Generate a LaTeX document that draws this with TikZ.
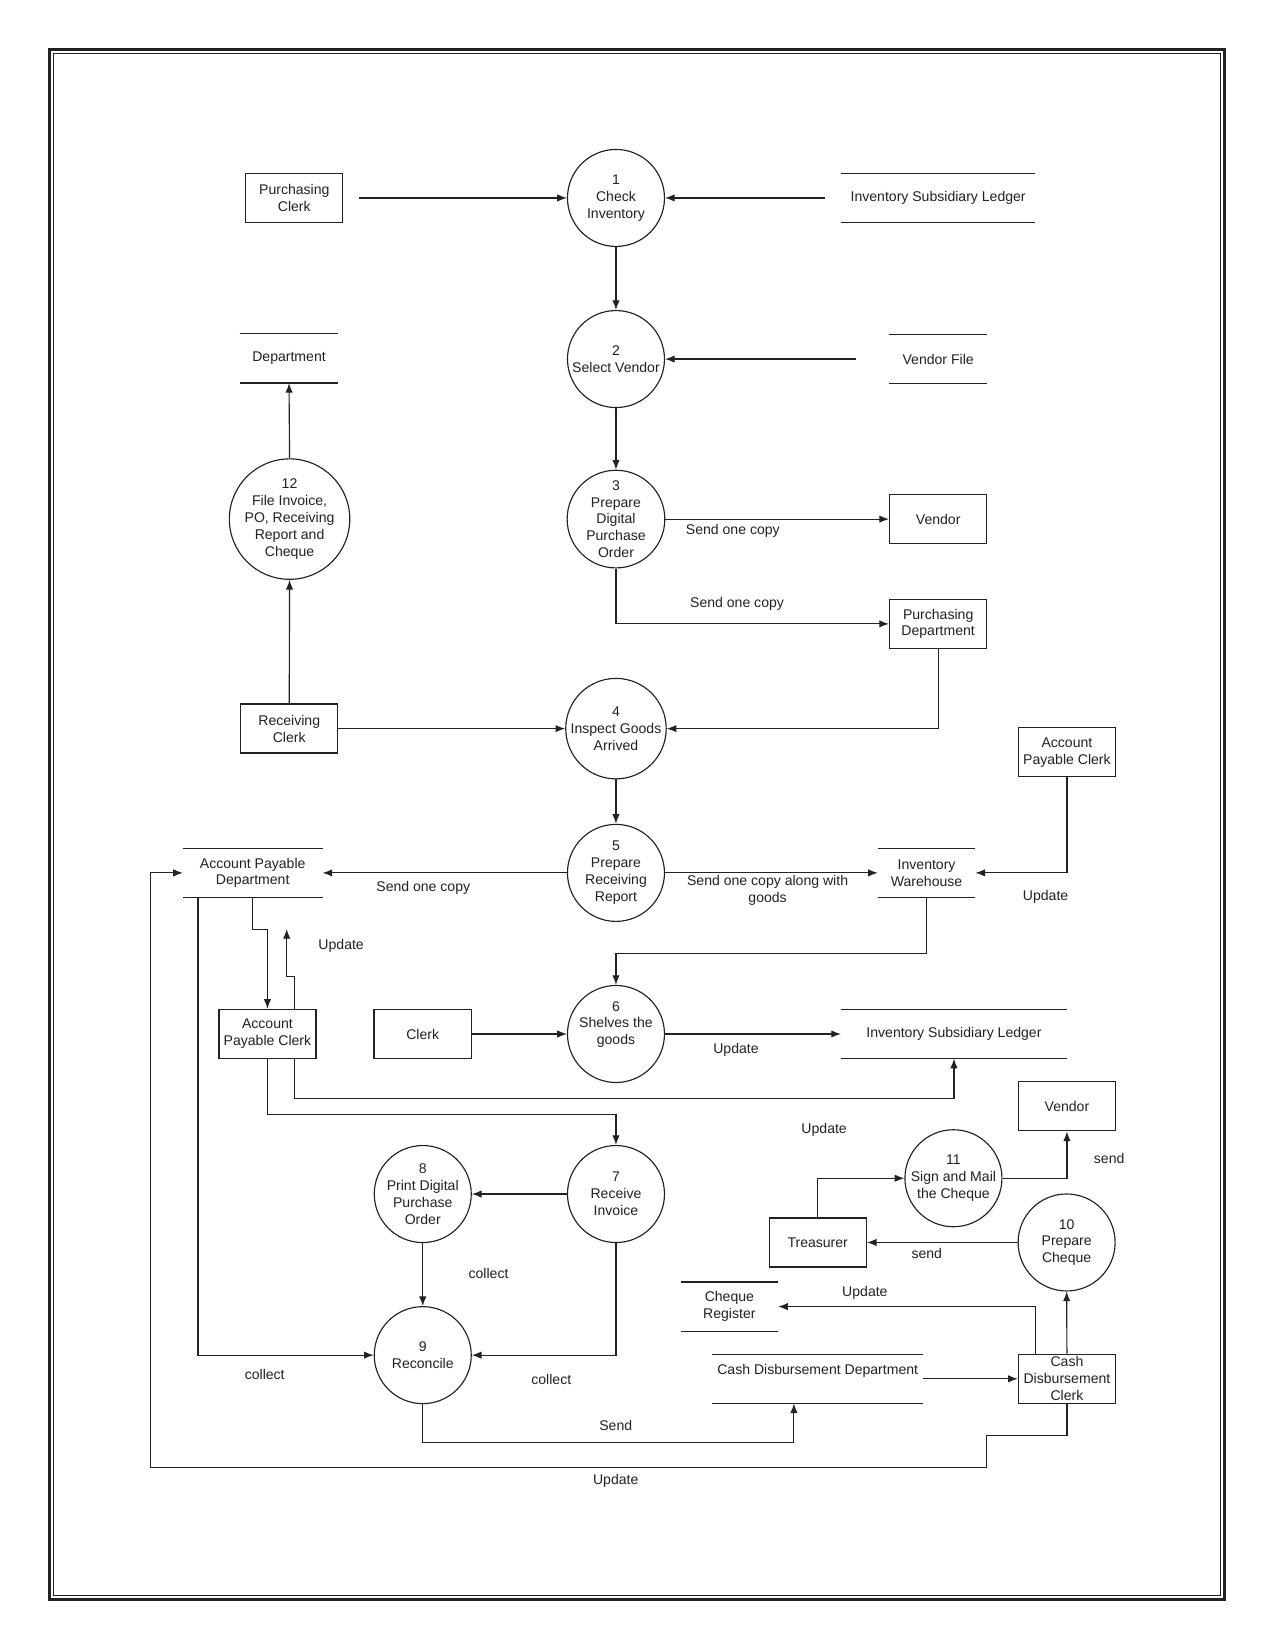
\documentclass[tikz,border=0pt]{standalone}
\usepackage{fontspec}
\setmainfont{Liberation Sans}
\usetikzlibrary{calc,arrows.meta}
\definecolor{ink}{HTML}{222222}
\tikzset{
  ln/.style={draw=ink, line width=0.65pt},
  arr/.style={ln, -{Latex[length=5.5pt,width=4.2pt]}},
  proc/.style={circle, draw=ink, line width=0.65pt, minimum size=1.94cm, inner sep=0pt, align=center, font=\fsz},
  ent/.style={rectangle, draw=ink, line width=0.75pt, minimum width=1.94cm, minimum height=0.98cm, inner sep=0pt, align=center, font=\fsz},
  store/.style={rectangle, minimum height=0.97cm, inner sep=0pt, align=center, font=\fsz},
  txt/.style={inner sep=0pt, align=center, font=\fsz, text=ink}
}
\newcommand{\fsz}{\fontsize{8}{9.6}\selectfont\color{ink}}
\newcommand{\stlines}[1]{\draw[ln] (#1.north west) -- (#1.north east) (#1.south west) -- (#1.south east);}
\begin{document}
\begin{tikzpicture}[x=0.021056cm, y=-0.021056cm]
\useasboundingbox (0,0) rectangle (1211,1568);
\fill[white] (0,0) rectangle (1211,1568);
% frame
\draw[ink, line width=1.3pt] (47,47) rectangle (1163,1519);
\draw[ink, line width=0.5pt] (50.5,50.5) rectangle (1159.5,1515.5);

% processes
\node[proc] (p1) at (585,188) {1\\Check\\Inventory};
\node[proc] (p2) at (585,341) {2\\Select Vendor};
\node[proc] (p3) at (585,493) {3\\Prepare\\Digital\\Purchase\\Order};
\node[proc] (p12) at (275,493) {12\\File Invoice,\\PO, Receiving\\Report and\\Cheque};
\node[proc] (p4) at (585,692) {4\\Inspect Goods\\Arrived};
\node[proc] (p5) at (585,829) {5\\Prepare\\Receiving\\Report};
\node[proc] (p6) at (585,982) {};
\node[txt] (t6) at (585,973) {6\\Shelves the\\goods};
\node[proc] (p7) at (585,1134) {7\\Receive\\Invoice};
\node[proc] (p8) at (401.5,1134) {8\\Print Digital\\Purchase\\Order};
\node[proc] (p9) at (401.5,1287) {9\\Reconcile};
\node[proc] (p11) at (905.5,1119) {11\\Sign and Mail\\the Cheque};
\node[proc] (p10) at (1013,1180) {10\\Prepare\\Cheque};

% external entities
\node[ent] (pc) at (279.5,188) {Purchasing\\Clerk};
\node[ent] (vt) at (891,493) {Vendor};
\node[ent] (pd) at (891,592.5) {Purchasing\\Department};
\node[ent] (rc) at (274.7,692) {Receiving\\Clerk};
\node[ent] (apcr) at (1013.3,714.5) {Account\\Payable Clerk};
\node[ent] (apcl) at (254,982) {Account\\Payable Clerk};
\node[ent] (clerk) at (401.4,982) {Clerk};
\node[ent] (vb) at (1013.3,1050.7) {Vendor};
\node[ent] (tr) at (776.6,1180) {Treasurer};
\node[ent] (cdc) at (1013.3,1309.5) {};
\node[txt] (tcdc) at (1013.3,1309.2) {Cash\\Disbursement\\Clerk};

% data stores
\node[store, minimum width=184*0.021056cm] (isl) at (891,188) {Inventory Subsidiary Ledger};
\node[store, minimum width=93*0.021056cm] (dep) at (274.5,340.4) {Department};
\node[store, minimum width=93*0.021056cm] (vf) at (891,341) {Vendor File};
\node[store, minimum width=132*0.021056cm] (apd) at (240,829) {Account Payable\\Department};
\node[store, minimum width=92*0.021056cm] (iw) at (880,829) {Inventory\\Warehouse};
\node[store, minimum width=214*0.021056cm] (islm) at (906,982) {Inventory Subsidiary Ledger};
\node[store, minimum width=92*0.021056cm] (cr) at (692.7,1240.9) {Cheque\\Register};
\node[store, minimum width=200*0.021056cm] (cdd) at (776.6,1309.5) {};
\node[txt] (tcdd) at (776.6,1301.6) {Cash Disbursement Department};
\stlines{isl}\stlines{dep}\stlines{vf}\stlines{apd}\stlines{iw}\stlines{islm}\stlines{cr}\stlines{cdd}

% flows
\draw[arr] ($(pc.east)+(15,0)$) -- (p1.west);
\draw[arr] ($(isl.west)+(-15.4,0)$) -- (p1.east);
\draw[arr] (p1.south) -- (p2.north);
\draw[arr] ($(vf.west)+(-31,0)$) -- (p2.east);
\draw[arr] (p2.south) -- (p3.north);
\draw[arr] (p3.east) -- (vt.west);
\draw[arr] (p3.south) |- (pd.west);
\draw[arr] (pd.south) |- (p4.east);
\draw[arr] (rc.east) -- (p4.west);
\draw[arr] (rc.north) -- (p12.south);
\draw[arr] (p12.north) -- (dep.south);
\draw[arr] (p4.south) -- (p5.north);
\draw[arr] (p5.west) -- (apd.east);
\draw[arr] (p5.east) -- (iw.west);
\draw[arr] (apcr.south) |- (iw.east);
\draw[arr] (iw.south) -- ++(0,53.3) -| (p6.north);
\draw[arr] (apd.south) -- ++(0,30) -| (apcl.north);
\draw[arr] ($(apcl.north)+(25.3,0)$) -- ++(0,-30.8) -- ++(-7,0) -- ++(0,-45);
\draw[arr] (clerk.east) -- (p6.west);
\draw[arr] (p6.east) -- (islm.west);
\draw[arr] ($(apcl.south)+(25.3,0)$) -- ++(0,37.3) -| (islm.south);
\draw[arr] (apcl.south) -- ++(0,52.8) -| (p7.north);
\draw[arr] (p7.west) -- (p8.east);
\draw[arr] (p8.south) -- (p9.north);
\draw[arr] (p7.south) |- (p9.east);
\draw[arr] ($(apd.south)+(-52,0)$) |- (p9.west);
\draw[arr] (p9.south) -- ++(0,36.4) -| ($(cdd.south)+(-22.6,0)$);
\draw[arr] (cdd.east) -- (cdc.west);
\draw[arr] ($(cdc.north)+(-30.2,0)$) |- (cr.east);
\draw[arr] (cdc.north) -- (p10.south);
\draw[arr] (p10.west) -- (tr.east);
\draw[arr] (tr.north) |- (p11.west);
\draw[arr] (p11.east) -| (vb.south);
\draw[arr] (cdc.south) -- ++(0,30) -- ++(-76.6,0) -- ++(0,30) -- ++(-793.6,0) |- (apd.west);

% labels
\node[txt] (l1) at (696,504) {Send one copy};
\node[txt] (l2) at (700,573.7) {Send one copy};
\node[txt] (l3) at (402,843) {Send one copy};
\node[txt] (l4) at (729,846) {Send one copy along with\\goods};
\node[txt] (l5) at (993,852) {Update};
\node[txt] (l6) at (324,898) {Update};
\node[txt] (l7) at (699,997) {Update};
\node[txt] (l8) at (782.7,1072.7) {Update};
\node[txt] (l9) at (1053.4,1100) {send};
\node[txt] (l10) at (880.2,1190) {send};
\node[txt] (l11) at (464,1209.8) {collect};
\node[txt] (l12) at (821.4,1227.8) {Update};
\node[txt] (l13) at (251.4,1305.4) {collect};
\node[txt] (l14) at (523.6,1309.9) {collect};
\node[txt] (l15) at (584.8,1353.8) {Send};
\node[txt] (l16) at (584.8,1406.4) {Update};
\end{tikzpicture}
\end{document}
